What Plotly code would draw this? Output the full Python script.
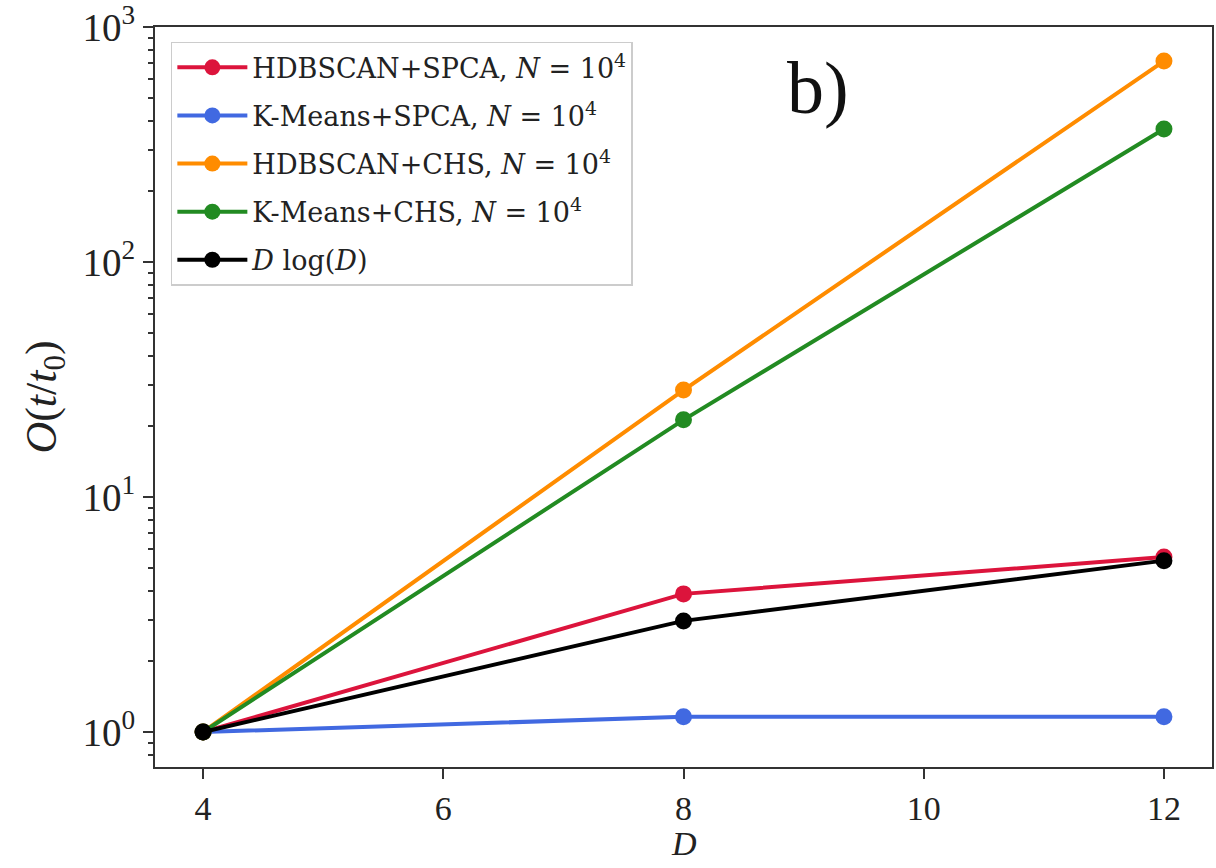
import plotly.graph_objects as go

D = [4, 8, 12]
hdbscan_spca = [1.0, 3.87, 5.55]
kmeans_spca = [1.0, 1.16, 1.16]
hdbscan_chs = [1.0, 28.5, 716]
kmeans_chs = [1.0, 21.3, 368]
dlogd = [1.0, 2.97, 5.36]

names = [
    "HDBSCAN+SPCA, <i>N</i> = 10<sup>4</sup>",
    "K-Means+SPCA, <i>N</i> = 10<sup>4</sup>",
    "HDBSCAN+CHS, <i>N</i> = 10<sup>4</sup>",
    "K-Means+CHS, <i>N</i> = 10<sup>4</sup>",
    "<i>D</i> log(<i>D</i>)",
]
series = [hdbscan_spca, kmeans_spca, hdbscan_chs, kmeans_chs, dlogd]
colors = ["#DC143C", "#4169E1", "#FF8C00", "#228B22", "#000000"]

fig = go.Figure()
for i, (n, s, c) in enumerate(zip(names, series, colors)):
    fig.add_trace(go.Scatter(
        x=D, y=s, name=n, mode="lines+markers",
        line=dict(color=c, width=4),
        marker=dict(color=c, size=17),
        legendgroup=f"g{i}",
    ))

serif = "Liberation Serif, DejaVu Serif, serif"
wide_serif = "DejaVu Serif, Liberation Serif, serif"

fig.update_layout(
    width=1216, height=868,
    margin=dict(l=155, r=4, t=27, b=101),
    plot_bgcolor="white", paper_bgcolor="white",
    font=dict(family=serif, color="#222", size=30),
    showlegend=True,
    legend=dict(
        x=0.015, y=0.98, xanchor="left", yanchor="top",
        bordercolor="#cccccc", borderwidth=1.5,
        bgcolor="rgba(255,255,255,0.9)",
        font=dict(family=wide_serif, size=27, color="#222"),
        tracegroupgap=10, itemwidth=70,
    ),
    xaxis=dict(
        range=[3.6, 12.4], tickvals=[4, 6, 8, 10, 12],
        ticks="outside", ticklen=10, tickwidth=2, tickcolor="#333",
        showline=True, linecolor="#333", linewidth=2, mirror=True,
        showgrid=False, zeroline=False,
        tickfont=dict(family=serif, size=34),
        automargin=False,
    ),
    yaxis=dict(
        type="log", range=[-0.149, 3.0],
        tickvals=[1, 10, 100, 1000],
        ticktext=["10<sup>0</sup>", "10<sup>1</sup>", "10<sup>2</sup>", "10<sup>3</sup>"],
        ticks="outside", ticklen=10, tickwidth=2, tickcolor="#333",
        minor=dict(ticks="outside", ticklen=5, tickwidth=1.5, tickcolor="#333",
                   tickvals=[0.8, 0.9, 2, 3, 4, 5, 6, 7, 8, 9,
                             20, 30, 40, 50, 60, 70, 80, 90,
                             200, 300, 400, 500, 600, 700, 800, 900]),
        showline=True, linecolor="#333", linewidth=2, mirror=True,
        showgrid=False, zeroline=False,
        tickfont=dict(family=serif, size=39),
        title=dict(text="<i>O</i>(<i>t</i>/<i>t</i><sub>0</sub>)", font=dict(family=serif, size=44), standoff=12),
        automargin=False,
    ),
)

# x-axis title placed just below the tick labels
fig.add_annotation(
    x=0.5, y=-0.076, xref="paper", yref="paper",
    text="<i>D</i>", showarrow=False,
    font=dict(family=serif, size=34, color="#222"),
    xanchor="center", yanchor="top",
)

fig.add_annotation(
    x=0.627, y=0.918, xref="paper", yref="paper",
    text="b)", showarrow=False,
    font=dict(family="Liberation Serif, serif", size=74, color="#111"),
    xanchor="center", yanchor="middle",
)

fig.write_html("out.html")
